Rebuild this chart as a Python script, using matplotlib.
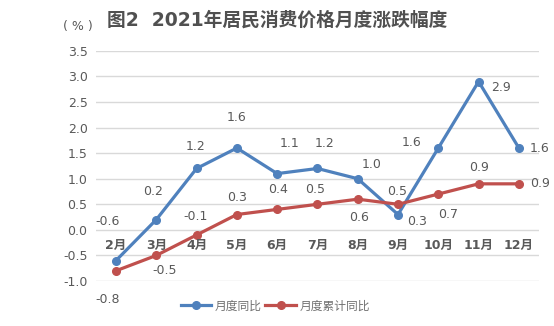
import matplotlib.pyplot as plt

plt.rcParams['font.family'] = ['DejaVu Sans', 'Noto Sans CJK SC']

months = ['2月', '3月', '4月', '5月', '6月', '7月', '8月', '9月', '10月', '11月', '12月']
yoy = [-0.6, 0.2, 1.2, 1.6, 1.1, 1.2, 1.0, 0.3, 1.6, 2.9, 1.6]
cum = [-0.8, -0.5, -0.1, 0.3, 0.4, 0.5, 0.6, 0.5, 0.7, 0.9, 0.9]

# label offsets in points (dx, dy) for each point
yoy_off = [(-6, 28), (-2, 20), (-1, 16), (0, 22), (9, 22), (5, 18), (10, 10), (14, -5), (-19, 4), (16, -4), (15, 0)]
cum_off = [(-6, -21), (6, -11), (-1, 13), (0, 12), (1, 14), (-2, 11), (1, -13), (-1, 9), (7, -15), (0, 12), (15, 0)]

blue = '#4F81BD'
red = '#C0504D'
txt = '#595959'

fig = plt.figure(figsize=(5.54, 3.26), dpi=100)
ax = fig.add_axes([0.173, 0.138, 0.800, 0.706])

x = list(range(len(months)))
ax.plot(x, yoy, color=blue, lw=2.3, marker='o', ms=5.5, label='月度同比', zorder=3)
ax.plot(x, cum, color=red, lw=2.3, marker='o', ms=5.5, label='月度累计同比', zorder=3)

for i, v in enumerate(yoy):
    ax.annotate(f'{v:.1f}', (i, v), xytext=yoy_off[i], textcoords='offset points',
                ha='center', va='center', fontsize=9, color=txt)
for i, v in enumerate(cum):
    ax.annotate(f'{v:.1f}', (i, v), xytext=cum_off[i], textcoords='offset points',
                ha='center', va='center', fontsize=9, color=txt)

# category labels sit just under the zero line
for i, m in enumerate(months):
    ax.annotate(m, (i, 0), xytext=(0, -11), textcoords='offset points',
                ha='center', va='center', fontsize=9, color=txt, fontweight='bold')

ax.set_xlim(-0.5, len(months) - 0.5)
ax.set_ylim(-1.0, 3.5)
ax.set_yticks([-1.0 + 0.5 * k for k in range(10)])
ax.set_yticklabels([f'{-1.0 + 0.5 * k:.1f}' for k in range(10)])
ax.tick_params(axis='y', length=0, labelsize=9, labelcolor=txt, pad=6)
ax.set_xticks([])
ax.grid(axis='y', color='#D9D9D9', lw=1)
ax.set_axisbelow(True)
for s in ax.spines.values():
    s.set_visible(False)

fig.text(0.5, 0.938, '图2  2021年居民消费价格月度涨跌幅度', ha='center', va='center',
         fontsize=13.5, fontweight='bold', color='#505050')
fig.text(0.141, 0.918, '( % )', ha='center', va='center', fontsize=9, color=txt)

ax.legend(loc='center', bbox_to_anchor=(0.405, -0.109), ncol=2, frameon=False,
          fontsize=8.5, labelcolor='#707070', handlelength=2.6, handletextpad=0.3,
          columnspacing=0.3)

fig.savefig('out.png', dpi=100)
